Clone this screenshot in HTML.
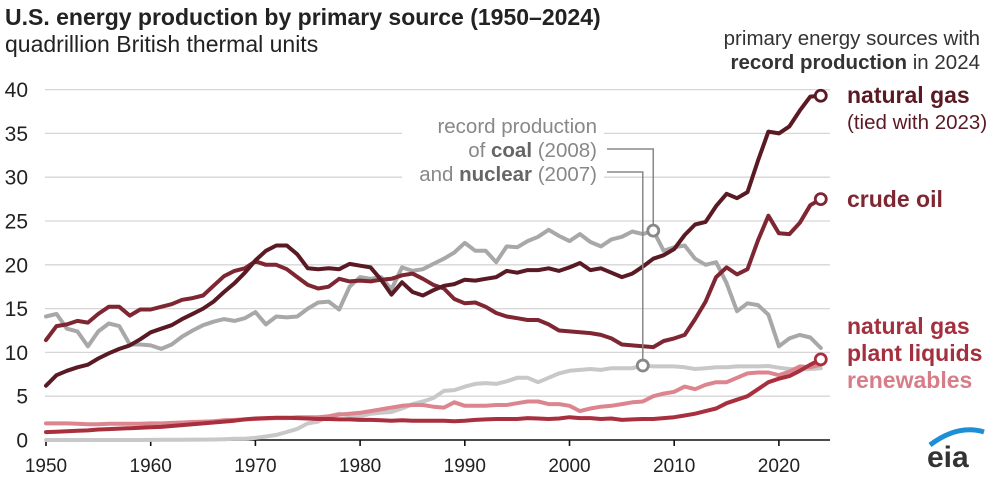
<!DOCTYPE html>
<html><head><meta charset="utf-8"><style>
body{margin:0;background:#fff;font-family:"Liberation Sans",Arial,sans-serif}
svg text{font-family:"Liberation Sans",Arial,sans-serif}
</style></head><body>
<svg id="chart" width="1000" height="480" viewBox="0 0 1000 480">
<text x="5" y="25" font-size="23" font-weight="bold" fill="#222">U.S. energy production by primary source (1950–2024)</text>
<text x="5" y="52" font-size="23" fill="#222">quadrillion British thermal units</text>
<text x="980" y="45" font-size="20.5" fill="#333" text-anchor="end">primary energy sources with</text>
<text x="980" y="69" font-size="20.5" fill="#333" text-anchor="end"><tspan font-weight="bold">record production</tspan> in 2024</text>
<g id="grid"></g><g id="axes"></g><g id="series"></g><g id="annot"></g>
<text x="847" y="103" font-size="23" font-weight="bold" fill="#5a1a24">natural gas</text>
<text x="847" y="129" font-size="20.5" fill="#5a1a24">(tied with 2023)</text>
<text x="847" y="207" font-size="23" font-weight="bold" fill="#7f2633">crude oil</text>
<text x="847" y="334" font-size="23" font-weight="bold" fill="#a3303e">natural gas</text>
<text x="847" y="361" font-size="23" font-weight="bold" fill="#a3303e">plant liquids</text>
<text x="847" y="388" font-size="23" font-weight="bold" fill="#d77d88">renewables</text>
<g>
<path d="M930 445 Q958 424 984 432" stroke="#1d8fd6" stroke-width="5" fill="none"/>
<text x="927" y="467" font-size="30" font-weight="bold" fill="#333">eia</text>
</g>
</svg>
<script>
const years=[];for(let y=1950;y<=2024;y++)years.push(y);
const yTicks=[0,5,10,15,20,25,30,35,40];
const xTicks=[1950,1960,1970,1980,1990,2000,2010,2020];
const natGas=[6.2,7.4,7.9,8.3,8.6,9.3,9.9,10.4,10.8,11.5,12.3,12.7,13.1,13.8,14.4,15.0,15.8,16.9,17.9,19.1,20.5,21.6,22.2,22.2,21.2,19.6,19.5,19.6,19.5,20.1,19.9,19.7,18.3,16.6,18.0,16.9,16.5,17.1,17.6,17.8,18.3,18.2,18.4,18.6,19.3,19.1,19.4,19.4,19.6,19.3,19.7,20.2,19.4,19.6,19.1,18.6,19.0,19.8,20.7,21.1,21.8,23.4,24.6,24.9,26.7,28.1,27.6,28.3,31.9,35.2,35.0,35.8,37.6,39.2,39.3];
const crude=[11.4,13.0,13.2,13.6,13.4,14.4,15.2,15.2,14.2,14.9,14.9,15.2,15.5,16.0,16.2,16.5,17.6,18.7,19.3,19.6,20.4,20.0,20.0,19.5,18.6,17.7,17.3,17.5,18.4,18.1,18.2,18.1,18.3,18.4,18.8,19.0,18.4,17.7,17.3,16.1,15.6,15.7,15.2,14.5,14.1,13.9,13.7,13.7,13.2,12.5,12.4,12.3,12.2,12.0,11.6,10.9,10.8,10.7,10.6,11.3,11.6,12.0,13.8,15.8,18.6,19.7,18.9,19.5,22.8,25.6,23.6,23.5,24.8,26.8,27.5];
const coal=[14.1,14.4,12.7,12.4,10.7,12.4,13.3,13.0,10.9,10.9,10.8,10.4,10.9,11.8,12.5,13.1,13.5,13.8,13.6,13.9,14.6,13.2,14.1,14.0,14.1,15.0,15.7,15.8,14.9,17.5,18.6,18.4,18.6,17.2,19.7,19.3,19.5,20.1,20.7,21.4,22.5,21.6,21.6,20.3,22.1,22.0,22.7,23.2,24.0,23.3,22.7,23.5,22.6,22.1,22.9,23.2,23.8,23.5,23.9,21.6,22.0,22.2,20.7,20.0,20.3,17.9,14.7,15.6,15.4,14.3,10.7,11.6,12.0,11.7,10.5];
const nuclear=[0,0,0,0,0,0,0,0,0,0,0.01,0.02,0.03,0.03,0.04,0.04,0.06,0.09,0.14,0.15,0.24,0.4,0.58,0.91,1.27,1.9,2.1,2.7,3.0,2.8,2.7,3.0,3.1,3.2,3.6,4.1,4.4,4.8,5.6,5.7,6.1,6.4,6.5,6.4,6.7,7.1,7.1,6.6,7.1,7.6,7.9,8.0,8.1,8.0,8.2,8.2,8.2,8.5,8.4,8.4,8.4,8.3,8.1,8.2,8.3,8.3,8.4,8.4,8.4,8.45,8.25,8.1,8.05,8.1,8.2];
const renew=[1.9,1.9,1.9,1.85,1.8,1.8,1.85,1.85,1.85,1.85,1.9,1.9,1.95,2.0,2.05,2.1,2.15,2.25,2.3,2.35,2.4,2.45,2.5,2.5,2.6,2.6,2.6,2.7,2.9,3.0,3.1,3.3,3.5,3.7,3.9,4.0,4.0,3.8,3.7,4.3,3.9,3.9,3.9,4.0,4.0,4.2,4.4,4.4,4.1,4.1,3.9,3.3,3.6,3.8,3.9,4.1,4.3,4.4,5.0,5.3,5.5,6.1,5.8,6.3,6.6,6.6,7.1,7.6,7.7,7.7,7.4,7.8,8.4,8.3,8.6];
const ngpl=[0.9,0.95,1.0,1.05,1.1,1.2,1.25,1.3,1.35,1.4,1.45,1.5,1.6,1.7,1.8,1.9,2.0,2.1,2.2,2.35,2.45,2.5,2.55,2.55,2.5,2.45,2.4,2.4,2.35,2.35,2.3,2.3,2.25,2.2,2.25,2.2,2.2,2.2,2.2,2.15,2.2,2.3,2.35,2.4,2.4,2.4,2.5,2.45,2.4,2.45,2.6,2.5,2.5,2.4,2.45,2.3,2.35,2.4,2.4,2.5,2.6,2.8,3.0,3.3,3.6,4.2,4.6,5.0,5.8,6.6,7.0,7.3,7.9,8.6,9.2];
const NS='http://www.w3.org/2000/svg';
const X=y=>46+(y-1950)*10.47;
const Y=v=>440-v*8.76;
function mk(tag,attrs,parent){const e=document.createElementNS(NS,tag);for(const k in attrs)e.setAttribute(k,attrs[k]);parent.appendChild(e);return e;}
const grid=document.getElementById('grid'),axes=document.getElementById('axes'),ser=document.getElementById('series'),ann=document.getElementById('annot');
yTicks.forEach(t=>{
  if(t>0){
    if(t===30||t===35){
      const g1=mk('line',{x1:45,x2:402,y1:Y(t),y2:Y(t),stroke:'#d6d6d6','stroke-width':1.3},grid);
      
      
      const g2=mk('line',{x1:604,x2:830,y1:Y(t),y2:Y(t),stroke:'#d6d6d6','stroke-width':1.3},grid);
      
      
    } else {
      const g=mk('line',{x1:45,x2:830,y1:Y(t),y2:Y(t),stroke:'#d6d6d6','stroke-width':1.3},grid);
      
      
    }
  }
  const tx=mk('text',{x:28,y:Y(t)+7.5,'font-size':21,fill:'#222','text-anchor':'end'},axes);
  tx.textContent=t;
  
  
});
const base=mk('line',{x1:45,x2:830,y1:440,y2:440,stroke:'#111','stroke-width':1.6},axes);


xTicks.forEach(t=>{
  const tk=mk('line',{x1:X(t),x2:X(t),y1:440,y2:446,stroke:'#111','stroke-width':1.6},axes);
  
  
  const tx=mk('text',{x:X(t),y:472,'font-size':19,fill:'#222','text-anchor':'middle'},axes);
  tx.textContent=t;
  
  
});
function line(data,color,name){
  const d=data.map((v,i)=>(i?'L':'M')+X(years[i]).toFixed(1)+' '+Y(v).toFixed(1)).join(' ');
  const p=mk('path',{d:d,fill:'none',stroke:color,'stroke-width':4,'stroke-linejoin':'round','stroke-linecap':'round'},ser);
  
  
}
function circ(yr,v,color,name){
  const c=mk('circle',{cx:X(yr),cy:Y(v),r:5.5,fill:'#fff',stroke:color,'stroke-width':2.8},ann);
  
  
}
line(nuclear,'#c8c8c8','nuclear-line');
line(coal,'#a8a8a8','coal-line');
line(renew,'#dc858f','renewables-line');
line(ngpl,'#a8303e','ngpl-line');
line(crude,'#7f2633','crude-oil-line');
line(natGas,'#5a1a24','natural-gas-line');
const iCoal=2008-1950,iNuc=2007-1950;
const c1=mk('polyline',{points:`607,149 ${X(2008)},149 ${X(2008)},${Y(coal[iCoal])-6}`,fill:'none',stroke:'#888','stroke-width':1.5},ann);


const c2=mk('polyline',{points:`607,172 ${X(2007)},172 ${X(2007)},${Y(nuclear[iNuc])-6}`,fill:'none',stroke:'#888','stroke-width':1.5},ann);


circ(2008,coal[iCoal],'#888','coal-record-marker');
circ(2007,nuclear[iNuc],'#888','nuclear-record-marker');
circ(2024,natGas[74],'#5a1a24','natural-gas-2024-marker');
circ(2024,crude[74],'#7f2633','crude-oil-2024-marker');
circ(2024,ngpl[74],'#a8303e','ngpl-2024-marker');
const notes=[['record production',133],['of |coal| (2008)',157],['and |nuclear| (2007)',181]];
notes.forEach((n,i)=>{
  const t=mk('text',{x:597,y:n[1],'font-size':20.5,fill:'#888','text-anchor':'end'},ann);
  const parts=n[0].split('|');
  parts.forEach((s,j)=>{const ts=mk('tspan',j===1?{'font-weight':'bold',fill:'#666'}:{},t);ts.textContent=s;});
  
  
});
</script>
</body></html>
